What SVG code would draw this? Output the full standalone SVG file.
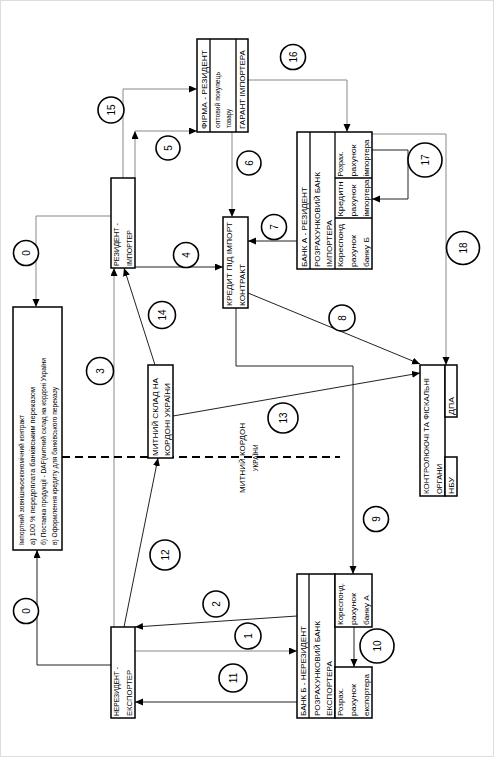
<svg xmlns="http://www.w3.org/2000/svg" width="495" height="758" viewBox="0 0 495 758">
<style>
.bx{fill:#fff;stroke:#000;stroke-width:1.5}
.dv{stroke:#000;stroke-width:1.3;fill:none}
.t{font-family:"Liberation Sans",Arial,sans-serif;font-size:8px;fill:#000}
.s{font-size:7px}
.c{fill:#fff;stroke:#000;stroke-width:1.6}
.n{font-family:"Liberation Sans",Arial,sans-serif;font-size:10px;text-anchor:middle;fill:#000}
.g{stroke:#888;fill:none;stroke-width:1;marker-end:url(#ah)}
.k{stroke:#222;fill:none;stroke-width:1;marker-end:url(#ah)}
</style>
<defs>
<marker id="ah" markerUnits="userSpaceOnUse" markerWidth="9" markerHeight="8" refX="8" refY="3.5" orient="auto"><path d="M0,0 L8,3.5 L0,7 z" fill="#000"/></marker>
</defs>
<rect x="0.5" y="0.5" width="493" height="756" fill="#fff" stroke="#ddd"/>

<g id="connectors">
<path class="g" d="M111,216 H36 V307"/>
<path class="k" d="M111,665 H37 V550"/>
<path class="g" d="M114,627 V268"/>
<path class="k" d="M155,365 L124,268"/>
<path class="k" d="M124,627 L158,458"/>
<path class="k" d="M135,267 H223"/>
<path class="g" d="M135,178 V131"/>
<path class="g" d="M135,131 H197"/>
<path class="g" d="M123,178 V89 H197"/>
<path class="g" d="M232,132 V217"/>
<path class="g" d="M248,80 H347 V132"/>
<path class="k" d="M297,241 H248"/>
<path class="k" d="M372,150 H408 V199 H372"/>
<path class="g" d="M372,134 H446 V365"/>
<path class="k" d="M248,293 L420,364"/>
<path class="k" d="M173,416 L420,373"/>
<path class="k" d="M236,308 V366 H353 V574"/>
<path class="k" d="M354,627 V667"/>
<path class="k" d="M297,616 L135,627"/>
<path class="g" d="M135,651 H297"/>
<path class="k" d="M297,702 H135"/>
<line x1="62" y1="457" x2="340" y2="457" stroke="#000" stroke-width="2" stroke-dasharray="8 5"/>
<g id="labels">
<circle class="c" cx="26" cy="253" r="12.5"/><text class="n" transform="translate(26 253) rotate(-90)" y="3.5">0</text>
<circle class="c" cx="26" cy="611" r="12.5"/><text class="n" transform="translate(26 611) rotate(-90)" y="3.5">0</text>
<circle class="c" cx="111" cy="110" r="13"/><text class="n" transform="translate(111 110) rotate(-90)" y="3.5">15</text>
<circle class="c" cx="168" cy="148" r="12"/><text class="n" transform="translate(168 148) rotate(-90)" y="3.5">5</text>
<circle class="c" cx="249" cy="163" r="12"/><text class="n" transform="translate(249 163) rotate(-90)" y="3.5">6</text>
<circle class="c" cx="293" cy="57" r="12.5"/><text class="n" transform="translate(293 57) rotate(-90)" y="3.5">16</text>
<circle class="c" cx="186" cy="255" r="12.5"/><text class="n" transform="translate(186 255) rotate(-90)" y="3.5">4</text>
<circle class="c" cx="274" cy="227" r="12.5"/><text class="n" transform="translate(274 227) rotate(-90)" y="3.5">7</text>
<circle class="c" cx="162" cy="315" r="13.5"/><text class="n" transform="translate(162 315) rotate(-90)" y="3.5">14</text>
<circle class="c" cx="283" cy="418" r="15"/><text class="n" transform="translate(283 418) rotate(-90)" y="3.5">13</text>
<circle class="c" cx="100" cy="371" r="13.5"/><text class="n" transform="translate(100 371) rotate(-90)" y="3.5">3</text>
<circle class="c" cx="342" cy="318" r="13"/><text class="n" transform="translate(342 318) rotate(-90)" y="3.5">8</text>
<circle class="c" cx="463" cy="248" r="16.5"/><text class="n" transform="translate(463 248) rotate(-90)" y="3.5">18</text>
<circle class="c" cx="425" cy="160" r="17"/><text class="n" transform="translate(425 160) rotate(-90)" y="3.5">17</text>
<circle class="c" cx="376" cy="519" r="12.5"/><text class="n" transform="translate(376 519) rotate(-90)" y="3.5">9</text>
<circle class="c" cx="165" cy="555" r="15"/><text class="n" transform="translate(165 555) rotate(-90)" y="3.5">12</text>
<circle class="c" cx="216" cy="604" r="13"/><text class="n" transform="translate(216 604) rotate(-90)" y="3.5">2</text>
<circle class="c" cx="248" cy="636" r="13"/><text class="n" transform="translate(248 636) rotate(-90)" y="3.5">1</text>
<circle class="c" cx="233" cy="678" r="14"/><text class="n" transform="translate(233 678) rotate(-90)" y="3.5">11</text>
<circle class="c" cx="377" cy="646" r="17"/><text class="n" transform="translate(377 646) rotate(-90)" y="3.5">10</text>
</g>
</g>

<g id="contract">
<rect class="bx" x="13" y="307" width="49" height="243"/>
<text class="t s" transform="translate(24 545) rotate(-90)" textLength="130" lengthAdjust="spacingAndGlyphs">Імпортний зовнішньоекономічний контракт</text>
<text class="t s" transform="translate(35 545) rotate(-90)" textLength="158" lengthAdjust="spacingAndGlyphs">а) 100 % передоплата банківським переказом</text>
<text class="t s" transform="translate(46 545) rotate(-90)" textLength="187" lengthAdjust="spacingAndGlyphs">б) Поставка продукції - DAF(митний склад на кордоні України</text>
<text class="t s" transform="translate(57 545) rotate(-90)" textLength="158" lengthAdjust="spacingAndGlyphs">в) Оформлення кредиту для банківського переказу</text>
</g>

<g id="rezident">
<rect class="bx" x="111" y="178" width="24" height="90"/>
<text class="t" transform="translate(118.5 266) rotate(-90)" textLength="43" lengthAdjust="spacingAndGlyphs">РЕЗИДЕНТ -</text>
<text class="t" transform="translate(132 266) rotate(-90)" textLength="36" lengthAdjust="spacingAndGlyphs">ІМПОРТЕР</text>
</g>

<g id="nerezident">
<rect class="bx" x="111" y="627" width="24" height="91"/>
<text class="t" transform="translate(118.5 716) rotate(-90)" textLength="49" lengthAdjust="spacingAndGlyphs">НЕРЕЗИДЕНТ -</text>
<text class="t" transform="translate(132 716) rotate(-90)" textLength="46" lengthAdjust="spacingAndGlyphs">ЕКСПОРТЕР</text>
</g>

<g id="firma">
<rect class="bx" x="197" y="39" width="51" height="93"/>
<path class="dv" d="M210,39 V132 M236,39 V132"/>
<text class="t" transform="translate(206.5 129) rotate(-90)" textLength="79" lengthAdjust="spacingAndGlyphs">ФІРМА - РЕЗИДЕНТ</text>
<text class="t s" transform="translate(220 128) rotate(-90)" textLength="56" lengthAdjust="spacingAndGlyphs">оптовий покупець</text>
<text class="t s" transform="translate(231 128) rotate(-90)" textLength="19" lengthAdjust="spacingAndGlyphs">товару</text>
<text class="t" transform="translate(245 129) rotate(-90)" textLength="79" lengthAdjust="spacingAndGlyphs">ГАРАНТ ІМПОРТЕРА</text>
</g>

<g id="kredyt">
<rect class="bx" x="223" y="217" width="25" height="91"/>
<text class="t" transform="translate(232 306) rotate(-90)" textLength="84" lengthAdjust="spacingAndGlyphs">КРЕДИТ ПІД ІМПОРТ</text>
<text class="t" transform="translate(245 306) rotate(-90)" textLength="42" lengthAdjust="spacingAndGlyphs">КОНТРАКТ</text>
</g>

<g id="bankA">
<rect class="bx" x="297" y="132" width="75" height="137"/>
<path class="dv" d="M310,132 V269 M335,132 V269 M335,178 H372 M335,218 H372"/>
<text class="t" transform="translate(306.5 267) rotate(-90)" textLength="80" lengthAdjust="spacingAndGlyphs">БАНК А - РЕЗИДЕНТ</text>
<text class="t" transform="translate(319.5 267) rotate(-90)" textLength="95" lengthAdjust="spacingAndGlyphs">РОЗРАХУНКОВИЙ БАНК</text>
<text class="t" transform="translate(331.5 267) rotate(-90)" textLength="47" lengthAdjust="spacingAndGlyphs">ІМПОРТЕРА</text>
<text class="t s" transform="translate(342.5 267) rotate(-90)" textLength="43" lengthAdjust="spacingAndGlyphs">Кореспонд</text>
<text class="t s" transform="translate(355.5 267) rotate(-90)" textLength="32" lengthAdjust="spacingAndGlyphs">рахунок</text>
<text class="t s" transform="translate(368.5 267) rotate(-90)" textLength="30" lengthAdjust="spacingAndGlyphs">банку Б</text>
<text class="t s" transform="translate(342.5 216.5) rotate(-90)" textLength="35" lengthAdjust="spacingAndGlyphs">Кредитн</text>
<text class="t s" transform="translate(355.5 216.5) rotate(-90)" textLength="32" lengthAdjust="spacingAndGlyphs">рахунок</text>
<text class="t s" transform="translate(368.5 216.5) rotate(-90)" textLength="37" lengthAdjust="spacingAndGlyphs">імпортера</text>
<text class="t s" transform="translate(342.5 176.5) rotate(-90)" textLength="25" lengthAdjust="spacingAndGlyphs">Розрах.</text>
<text class="t s" transform="translate(355.5 176.5) rotate(-90)" textLength="32" lengthAdjust="spacingAndGlyphs">рахунок</text>
<text class="t s" transform="translate(368.5 176.5) rotate(-90)" textLength="37" lengthAdjust="spacingAndGlyphs">імпортера</text>
</g>

<g id="bankB">
<rect class="bx" x="297" y="574" width="38" height="144"/>
<path class="dv" d="M309,574 V718"/>
<rect class="bx" x="335" y="574" width="37" height="53"/>
<rect class="bx" x="335" y="667" width="37" height="51"/>
<text class="t" transform="translate(306 716) rotate(-90)" textLength="90" lengthAdjust="spacingAndGlyphs">БАНК Б - НЕРЕЗИДЕНТ</text>
<text class="t" transform="translate(319.5 716) rotate(-90)" textLength="95" lengthAdjust="spacingAndGlyphs">РОЗРАХУНКОВИЙ БАНК</text>
<text class="t" transform="translate(331.5 716) rotate(-90)" textLength="55" lengthAdjust="spacingAndGlyphs">ЕКСПОРТЕРА</text>
<text class="t s" transform="translate(342.5 625) rotate(-90)" textLength="42" lengthAdjust="spacingAndGlyphs">Кореспонд.</text>
<text class="t s" transform="translate(355.5 625) rotate(-90)" textLength="32" lengthAdjust="spacingAndGlyphs">рахунок</text>
<text class="t s" transform="translate(368.5 625) rotate(-90)" textLength="30" lengthAdjust="spacingAndGlyphs">банку А</text>
<text class="t s" transform="translate(342.5 716) rotate(-90)" textLength="28" lengthAdjust="spacingAndGlyphs">Розрах.</text>
<text class="t s" transform="translate(355.5 716) rotate(-90)" textLength="32" lengthAdjust="spacingAndGlyphs">рахунок</text>
<text class="t s" transform="translate(368.5 716) rotate(-90)" textLength="42" lengthAdjust="spacingAndGlyphs">експортера</text>
</g>

<g id="kontrol">
<rect class="bx" x="420" y="365" width="25" height="131"/>
<rect class="bx" x="445" y="365" width="12" height="52"/>
<rect class="bx" x="445" y="457" width="12" height="39"/>
<text class="t" transform="translate(429 494) rotate(-90)" textLength="116" lengthAdjust="spacingAndGlyphs">КОНТРОЛЮЮЧІ ТА ФІСКАЛЬНІ</text>
<text class="t" transform="translate(441.5 494) rotate(-90)" textLength="30" lengthAdjust="spacingAndGlyphs">ОРГАНИ</text>
<text class="t" transform="translate(454 415) rotate(-90)" textLength="18" lengthAdjust="spacingAndGlyphs">ДПА</text>
<text class="t" transform="translate(454 494) rotate(-90)" textLength="17" lengthAdjust="spacingAndGlyphs">НБУ</text>
</g>

<g id="sklad">
<rect class="bx" x="148" y="365" width="25" height="93"/>
<text class="t" transform="translate(158 456) rotate(-90)" textLength="78" lengthAdjust="spacingAndGlyphs">МИТНИЙ СКЛАД НА</text>
<text class="t" transform="translate(170 456) rotate(-90)" textLength="73" lengthAdjust="spacingAndGlyphs">КОРДОНІ УКРАЇНИ</text>
</g>

<g id="kordon">
<text class="t" transform="translate(245 458) rotate(-90)" text-anchor="middle" textLength="70" lengthAdjust="spacingAndGlyphs">МИТНИЙ КОРДОН</text>
<text class="t" transform="translate(258 458) rotate(-90)" text-anchor="middle" textLength="27" lengthAdjust="spacingAndGlyphs">УКРАЇНИ</text>
</g>
</svg>
